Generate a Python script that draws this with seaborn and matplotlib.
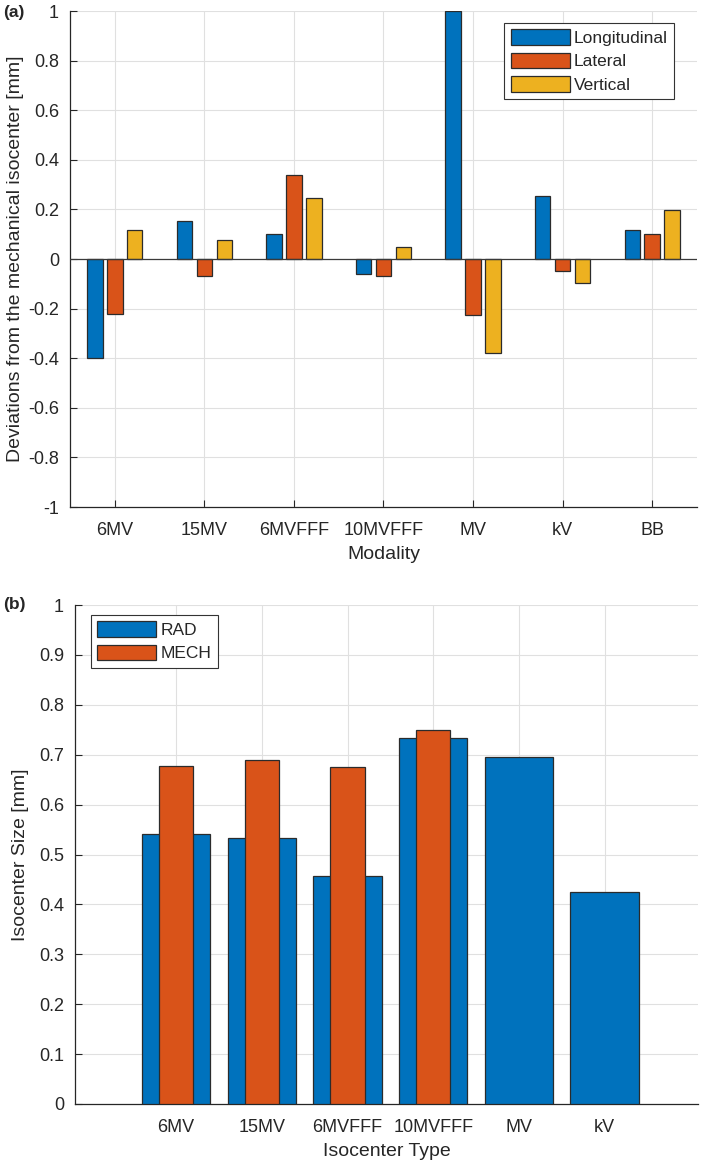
import numpy as np
import pandas as pd
import matplotlib
matplotlib.use("Agg")
import matplotlib.pyplot as plt
import seaborn as sns

# ---- data ----
modalities = ["6MV", "15MV", "6MVFFF", "10MVFFF", "MV", "kV", "BB"]
longitudinal = [-0.40, 0.155, 0.101, -0.059, 1.00, 0.254, 0.116]
lateral = [-0.223, -0.070, 0.338, -0.069, -0.227, -0.047, 0.100]
vertical = [0.116, 0.078, 0.247, 0.049, -0.381, -0.095, 0.197]

iso_types = ["6MV", "15MV", "6MVFFF", "10MVFFF", "MV", "kV"]
rad = [0.542, 0.533, 0.456, 0.734, 0.696, 0.424]
mech = [0.678, 0.690, 0.676, 0.750, np.nan, np.nan]

series_names = ["Longitudinal", "Lateral", "Vertical"]
colors3 = ["#0072BD", "#D95319", "#EDB120"]

sns.set_style("ticks")
plt.rcParams["font.family"] = ["Liberation Sans", "DejaVu Sans"]
plt.rcParams["font.size"] = 13

AX_COL = "#262626"
GRID_COL = "#e0e0e0"
EDGE = "#2b2b2b"
TICK_FS = 13
LABEL_FS = 14
LEG_FS = 12.5

fig = plt.figure(figsize=(7.09, 11.68), dpi=100)
ax1 = fig.add_axes([70 / 709, 1 - 507 / 1168, (697 - 70) / 709, (507 - 11) / 1168])
ax2 = fig.add_axes([75 / 709, 1 - 1104 / 1168, (698 - 75) / 709, (1104 - 605) / 1168])

# ---- top panel ----
df1 = pd.DataFrame({
    "Modality": np.repeat(modalities, 3),
    "Axis": series_names * len(modalities),
    "Value": np.ravel(np.column_stack([longitudinal, lateral, vertical])),
})
sns.barplot(data=df1, x="Modality", y="Value", hue="Axis", order=modalities,
            hue_order=series_names, palette=colors3, width=0.667, gap=0.22,
            edgecolor=EDGE, linewidth=0.9, saturation=1, errorbar=None, ax=ax1,
            zorder=3)
ax1.axhline(0, color="#3a3a3a", lw=0.9, zorder=4)
ax1.set_ylim(-1, 1)
ax1.set_xlim(-0.5, 6.5)
ax1.set_yticks(np.arange(-1, 1.01, 0.2))
ax1.set_yticklabels(["-1", "-0.8", "-0.6", "-0.4", "-0.2", "0", "0.2", "0.4", "0.6", "0.8", "1"])
ax1.set_xlabel("Modality", fontsize=LABEL_FS, labelpad=5, color=AX_COL)
ax1.set_ylabel("Deviations from the mechanical isocenter [mm]", fontsize=LABEL_FS,
               labelpad=3, color=AX_COL)
leg1 = ax1.legend(loc="upper right", bbox_to_anchor=(0.9633, 0.976), fontsize=LEG_FS,
                  frameon=True, fancybox=False, edgecolor="#333333", framealpha=1,
                  handlelength=3.4, handleheight=1.0, borderpad=0.35, labelspacing=0.4,
                  handletextpad=0.25, borderaxespad=0)
leg1.get_frame().set_linewidth(0.8)

# ---- bottom panel ----
df_rad = pd.DataFrame({"Type": iso_types, "Size": rad})
df_mech = pd.DataFrame({"Type": iso_types, "Size": mech})
sns.barplot(data=df_rad, x="Type", y="Size", order=iso_types, color=colors3[0],
            width=0.8, edgecolor=EDGE, linewidth=0.9, saturation=1, errorbar=None,
            ax=ax2, label="RAD", zorder=3)
sns.barplot(data=df_mech, x="Type", y="Size", order=iso_types, color=colors3[1],
            width=0.4, edgecolor=EDGE, linewidth=0.9, saturation=1, errorbar=None,
            ax=ax2, label="MECH", zorder=4)
ax2.set_ylim(0, 1)
ax2.set_xlim(-1.18, 6.09)
ax2.set_yticks(np.arange(0, 1.01, 0.1))
ax2.set_yticklabels(["0", "0.1", "0.2", "0.3", "0.4", "0.5", "0.6", "0.7", "0.8", "0.9", "1"])
ax2.set_xlabel("Isocenter Type", fontsize=LABEL_FS, labelpad=5, color=AX_COL)
ax2.set_ylabel("Isocenter Size [mm]", fontsize=LABEL_FS, labelpad=7, color=AX_COL)
leg2 = ax2.legend(loc="upper left", bbox_to_anchor=(0.026, 0.98), fontsize=LEG_FS,
                  frameon=True, fancybox=False, edgecolor="#333333", framealpha=1,
                  handlelength=3.4, handleheight=1.0, borderpad=0.35, labelspacing=0.4,
                  handletextpad=0.25, borderaxespad=0)
leg2.get_frame().set_linewidth(0.8)

for ax in (ax1, ax2):
    ax.grid(True, color=GRID_COL, lw=0.8, zorder=0)
    ax.set_axisbelow(True)
    for s in ("top", "right"):
        ax.spines[s].set_visible(False)
    for s in ("left", "bottom"):
        ax.spines[s].set_color(AX_COL)
        ax.spines[s].set_linewidth(0.9)
    ax.tick_params(direction="in", length=5, width=0.8, colors=AX_COL,
                   labelsize=TICK_FS, labelcolor=AX_COL, pad=8)
    ax.tick_params(axis="x", pad=11)
    ax.set_facecolor("white")

fig.text(3 / 709, 1 - 13 / 1168, "(a)", fontsize=12.5, fontweight="bold", va="center", ha="left")
fig.text(3 / 709, 1 - 605 / 1168, "(b)", fontsize=12.5, fontweight="bold", va="center", ha="left")

fig.savefig("out.png", dpi=100, facecolor="white")
